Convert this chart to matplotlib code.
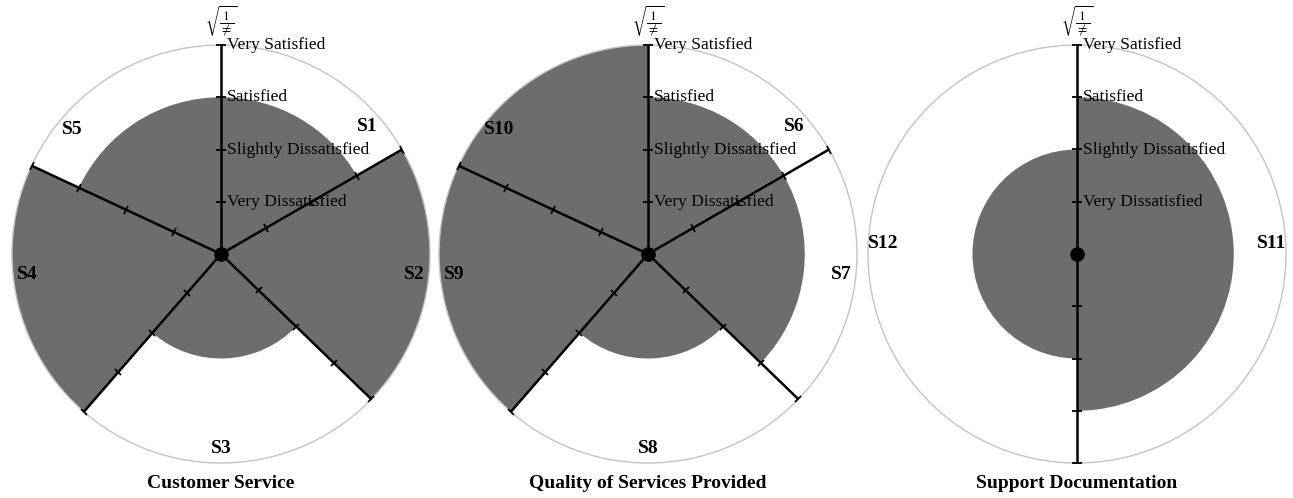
import numpy as np
import matplotlib
matplotlib.use("Agg")
import matplotlib.pyplot as plt
from matplotlib.markers import MarkerStyle
from matplotlib.transforms import Affine2D

plt.rcParams['font.family'] = ['Liberation Serif', 'DejaVu Serif']
plt.rcParams['mathtext.fontset'] = 'stix'

# satisfaction scale (radius of each sector)
levels = ['Very Dissatisfied', 'Slightly Dissatisfied', 'Satisfied', 'Very Satisfied']

# panel 1
cs_title = 'Customer Service'
cs_names = ['S1', 'S2', 'S3', 'S4', 'S5']
cs_edges = [0, 60, 134, 221, 295, 360]      # sector boundaries, degrees clockwise from top
cs_values = [3, 4, 2, 4, 3]

# panel 2
qs_title = 'Quality of Services Provided'
qs_names = ['S6', 'S7', 'S8', 'S9', 'S10']
qs_edges = [0, 60, 134, 221, 295, 360]
qs_values = [3, 3, 2, 4, 4]

# panel 3
sd_title = 'Support Documentation'
sd_names = ['S11', 'S12']
sd_edges = [0, 180, 360]
sd_values = [3, 2]

# where the sector names sit (degrees)
cs_label_ang = [49, 96, 180, 264, 310]
qs_label_ang = [49, 96, 180, 264, 310]
sd_label_ang = [87, 273]

FILL = '#6d6d6d'
RMAX = len(levels)


def draw_panel(ax, title, names, edges, values, label_ang):
    ax.set_theta_zero_location('N')
    ax.set_theta_direction(-1)
    edges = np.radians(edges)
    widths = np.diff(edges)
    mids = edges[:-1] + widths / 2
    ax.bar(mids, values, width=widths, bottom=0, color=FILL, linewidth=0, align='center', zorder=1)

    # spokes with tick marks at each level
    for e in edges[:-1]:
        ax.plot([e, e], [0, RMAX], color='black', lw=1.8, zorder=3, clip_on=False, solid_capstyle='butt')
        m = MarkerStyle('_', transform=Affine2D().rotate_deg(-np.degrees(e)))
        ax.plot([e] * RMAX, np.arange(1, RMAX + 1), ls='none', marker=m, ms=6.5,
                mec='black', mew=1.3, zorder=3, clip_on=False)
    ax.plot([0], [0], 'o', color='black', ms=9.5, zorder=4)

    # scale labels on the top spoke
    for i, lev in enumerate(levels):
        ax.annotate(lev, xy=(0, i + 1), xytext=(4, 0), textcoords='offset points',
                    ha='left', va='center', fontsize=12.5, zorder=5, annotation_clip=False)
    ax.annotate(r'$\sqrt{\dfrac{1}{\neq}}$', xy=(0, RMAX), xytext=(0, 4), textcoords='offset points',
                ha='center', va='bottom', fontsize=9.5, annotation_clip=False)

    for nm, a in zip(names, label_ang):
        ax.text(np.radians(a), 3.72, nm, ha='center', va='center', fontsize=14,
                fontweight='bold', zorder=5)

    ax.set_ylim(0, RMAX)
    ax.set_xticks([])
    ax.set_yticks([])
    ax.grid(False)
    ax.spines['polar'].set_color('#c4c4c4')
    ax.spines['polar'].set_linewidth(1.0)
    ax.text(0.5, -0.048, title, transform=ax.transAxes, ha='center', va='center',
            fontsize=14, fontweight='bold')


W, H = 1293, 498
fig = plt.figure(figsize=(W / 100, H / 100), dpi=100)
R = 209
panels = [
    (221, cs_title, cs_names, cs_edges, cs_values, cs_label_ang),
    (648, qs_title, qs_names, qs_edges, qs_values, qs_label_ang),
    (1077, sd_title, sd_names, sd_edges, sd_values, sd_label_ang),
]
cy = 254
for cx, title, names, edges, values, lab in panels:
    ax = fig.add_axes([(cx - R) / W, (H - cy - R) / H, 2 * R / W, 2 * R / H], projection='polar')
    draw_panel(ax, title, names, edges, values, lab)

fig.savefig('out.png', dpi=100)
